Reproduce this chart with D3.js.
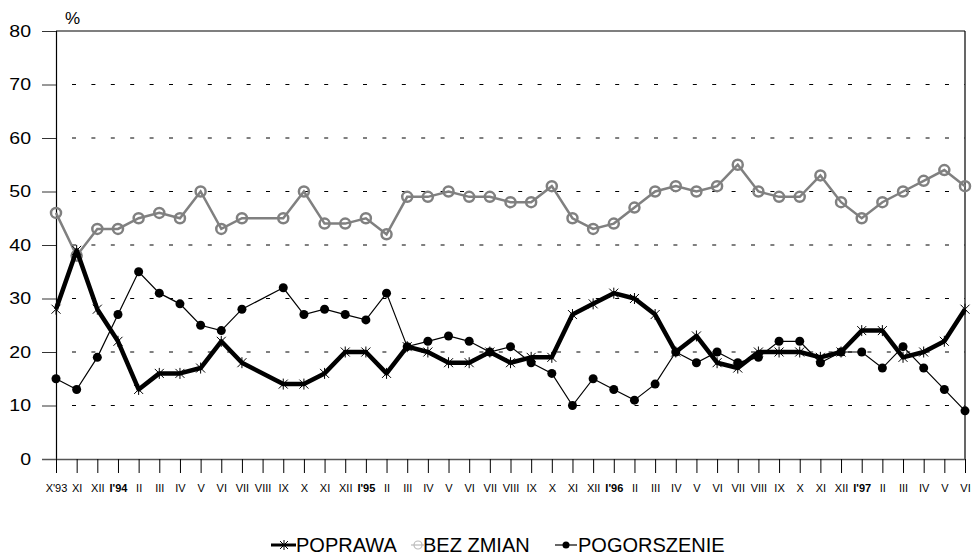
<!DOCTYPE html>
<html>
<head>
<meta charset="utf-8">
<script src="https://cdn.jsdelivr.net/npm/d3@7"></script>
<style>
  body { margin: 0; background: #fff; }
  svg { display: block; font-family: Arial, "Liberation Sans", sans-serif; }
</style>
</head>
<body>
<div class="wrapper"></div>
<script>
const width = 972;
const height = 555;

// month labels, one per survey slot (VIII'94 has no data)
const months = ["X'93","XI","XII","I'94","II","III","IV","V","VI","VII","VIII","IX","X","XI","XII",
  "I'95","II","III","IV","V","VI","VII","VIII","IX","X","XI","XII",
  "I'96","II","III","IV","V","VI","VII","VIII","IX","X","XI","XII",
  "I'97","II","III","IV","V","VI"];
const yearLabels = ["I'94", "I'95", "I'96", "I'97"];

const poprawa = [28,39,28,22,13,16,16,17,22,18,null,14,14,16,20,20,16,21,20,18,18,20,18,19,19,27,29,31,30,27,20,23,18,17,20,20,20,19,20,24,24,19,20,22,28];
const bezZmian = [46,38,43,43,45,46,45,50,43,45,null,45,50,44,44,45,42,49,49,50,49,49,48,48,51,45,43,44,47,50,51,50,51,55,50,49,49,53,48,45,48,50,52,54,51];
const pogorszenie = [15,13,19,27,35,31,29,25,24,28,null,32,27,28,27,26,31,21,22,23,22,20,21,18,16,10,15,13,11,14,20,18,20,18,19,22,22,18,20,20,17,21,17,13,9];

const yTicks = [0, 10, 20, 30, 40, 50, 60, 70, 80];

const margin = { top: 31, right: 7, bottom: 96, left: 56 };

const svg = d3.select(".wrapper")
  .append("svg")
  .attr("width", width)
  .attr("height", height);

const x = d3.scalePoint()
  .domain(d3.range(months.length))
  .range([margin.left, width - margin.right]);

const y = d3.scaleLinear()
  .domain([0, 80])
  .range([height - margin.bottom, margin.top]);

// dashed gridlines
svg.append("g")
  .selectAll("line")
  .data(yTicks.filter(d => d > 0 && d < 80))
  .join("line")
  .attr("x1", margin.left)
  .attr("x2", width - margin.right)
  .attr("y1", d => y(d))
  .attr("y2", d => y(d))
  .attr("stroke", "#000")
  .attr("stroke-width", 1)
  .attr("stroke-dasharray", "4,15.4")
  .attr("stroke-dashoffset", -16);

// top border and right border
svg.append("line")
  .attr("x1", margin.left).attr("x2", width - margin.right)
  .attr("y1", y(80)).attr("y2", y(80))
  .attr("stroke", "#555").attr("stroke-width", 1.5);
svg.append("line")
  .attr("x1", width - margin.right).attr("x2", width - margin.right)
  .attr("y1", y(80)).attr("y2", y(0))
  .attr("stroke", "#000").attr("stroke-width", 1.2);

// y axis
const yAxis = svg.append("g")
  .attr("transform", `translate(${margin.left},0)`)
  .call(d3.axisLeft(y).tickValues(yTicks).tickSize(14).tickPadding(10));
yAxis.select(".domain").attr("stroke", "#000").attr("stroke-width", 1.2);
yAxis.selectAll(".tick line").attr("stroke", "#333");
// the original labels are a bit wider than plain Arial
yAxis.selectAll(".tick text")
  .attr("font-size", 16)
  .attr("fill", "#000")
  .attr("font-family", "Arial, 'Liberation Sans', sans-serif")
  .attr("x", null)
  .attr("transform", "translate(-25,0) scale(1.22,1)");

svg.append("text")
  .attr("x", 65).attr("y", 24)
  .attr("font-size", 17)
  .text("%");

// x axis
const xAxis = svg.append("g")
  .attr("transform", `translate(0,${y(0)})`)
  .call(d3.axisBottom(x).tickFormat(i => months[i]).tickSize(14).tickSizeOuter(0).tickPadding(11));
xAxis.select(".domain").attr("stroke", "#555").attr("stroke-width", 1.5)
  .attr("d", `M${margin.left - 14},0.5H${width - margin.right}`);
xAxis.selectAll(".tick line").attr("stroke", "#000");
xAxis.selectAll(".tick text")
  .attr("font-size", 11)
  .attr("fill", "#000")
  .attr("font-family", "Arial, 'Liberation Sans', sans-serif")
  .attr("font-weight", i => yearLabels.includes(months[i]) ? "bold" : "normal");

const line = d3.line()
  .x(d => x(d.i))
  .y(d => y(d.v));

const toPoints = arr => arr.map((v, i) => ({ i, v })).filter(d => d.v !== null);

// BEZ ZMIAN
const bzPts = toPoints(bezZmian);
svg.append("path")
  .datum(bzPts)
  .attr("d", line)
  .attr("fill", "none")
  .attr("stroke", "#808080")
  .attr("stroke-width", 2.5);
svg.append("g")
  .selectAll("circle")
  .data(bzPts)
  .join("circle")
  .attr("cx", d => x(d.i))
  .attr("cy", d => y(d.v))
  .attr("r", 5)
  .attr("fill", "none")
  .attr("stroke", "#808080")
  .attr("stroke-width", 2.5);

// POGORSZENIE
const pgPts = toPoints(pogorszenie);
svg.append("path")
  .datum(pgPts)
  .attr("d", line)
  .attr("fill", "none")
  .attr("stroke", "#000")
  .attr("stroke-width", 1.2);
svg.append("g")
  .selectAll("circle")
  .data(pgPts)
  .join("circle")
  .attr("cx", d => x(d.i))
  .attr("cy", d => y(d.v))
  .attr("r", 4.5)
  .attr("fill", "#000");

// POPRAWA
const starPath = (cx, cy, s) =>
  `M${cx - s},${cy - s}L${cx + s},${cy + s}M${cx - s},${cy + s}L${cx + s},${cy - s}` +
  `M${cx},${cy - s - 1}L${cx},${cy + s + 1}`;

const ppPts = toPoints(poprawa);
svg.append("path")
  .datum(ppPts)
  .attr("d", line)
  .attr("fill", "none")
  .attr("stroke", "#000")
  .attr("stroke-width", 4.5)
  .attr("stroke-linejoin", "round");
svg.append("g")
  .selectAll("path")
  .data(ppPts)
  .join("path")
  .attr("d", d => starPath(x(d.i), y(d.v), 4.5))
  .attr("stroke", "#000")
  .attr("stroke-width", 1);

// legend
const legend = svg.append("g").attr("font-size", 20);
const ly = 545;

legend.append("line").attr("x1", 271).attr("x2", 296).attr("y1", ly).attr("y2", ly)
  .attr("stroke", "#000").attr("stroke-width", 3);
legend.append("path").attr("d", starPath(284, ly, 4)).attr("stroke", "#000").attr("stroke-width", 1);
legend.append("text").attr("x", 296).attr("y", ly + 7).text("POPRAWA");

legend.append("line").attr("x1", 411).attr("x2", 424).attr("y1", ly).attr("y2", ly)
  .attr("stroke", "#bbb").attr("stroke-width", 1.2);
legend.append("circle").attr("cx", 418).attr("cy", ly).attr("r", 4)
  .attr("fill", "none").attr("stroke", "#bbb").attr("stroke-width", 1.2);
legend.append("text").attr("x", 423).attr("y", ly + 7).text("BEZ ZMIAN");

legend.append("line").attr("x1", 555).attr("x2", 577).attr("y1", ly).attr("y2", ly)
  .attr("stroke", "#000").attr("stroke-width", 1.2);
legend.append("circle").attr("cx", 566).attr("cy", ly).attr("r", 3.5).attr("fill", "#000");
legend.append("text").attr("x", 578).attr("y", ly + 7).text("POGORSZENIE");
</script>
</body>
</html>
